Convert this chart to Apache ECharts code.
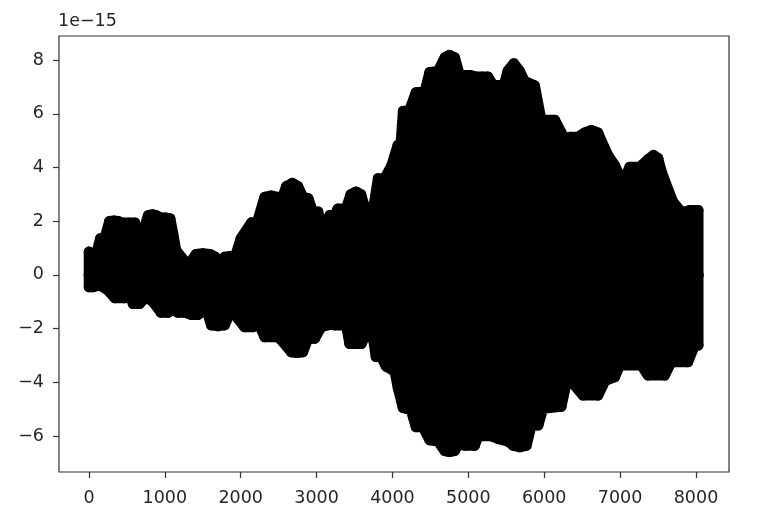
<!DOCTYPE html>
<html>
<head>
<meta charset="utf-8">
<script src="https://cdn.jsdelivr.net/npm/echarts@6/dist/echarts.min.js"></script>
<style>
  html, body { margin: 0; padding: 0; background: #fff; }
  #main { width: 758px; height: 528px; }
</style>
</head>
<body>
<div id="main"></div>
<script>
// envelope of the dense signal (units of 1e-15)
var upperX = [0, 0, 75, 150, 207, 270, 330, 385, 440, 520, 605, 668, 734, 780, 840, 885, 950, 1010, 1070,
  1107, 1147, 1217, 1305, 1410, 1500, 1595, 1660, 1722, 1788, 1860, 1925, 2000, 2140, 2205, 2315, 2400,
  2490, 2540, 2600, 2680, 2755, 2820, 2890, 2950, 3020, 3084, 3172, 3238, 3280, 3390, 3450, 3520, 3585,
  3633, 3700, 3750, 3810, 3897, 3990, 4070, 4110, 4140, 4225, 4310, 4425, 4490, 4600, 4690, 4750, 4820,
  4885, 5020, 5100, 5180, 5260, 5325, 5390, 5435, 5520, 5600, 5675, 5740, 5875, 5960, 6140, 6225, 6270,
  6335, 6445, 6533, 6620, 6708, 6760, 6840, 6928, 7010, 7060, 7126, 7258, 7367, 7440, 7500, 7540, 7630,
  7697, 7806, 7850, 7916, 8030, 8030];
var upperY = [0, 0.86, 0.55, 1.36, 1.36, 2.0, 2.02, 2.0, 1.94, 1.94, 1.94, 0.92, 1.79, 2.22, 2.25, 2.22, 2.13, 2.13, 2.1,
  1.55, 0.92, 0.67, 0.36, 0.77, 0.8, 0.77, 0.68, 0.48, 0.67, 0.7, 0.67, 1.35, 1.95, 1.85, 2.9, 2.95,
  2.9, 2.8, 3.3, 3.42, 3.3, 2.9, 2.85, 2.35, 2.35, 1.42, 2.22, 2.22, 2.47, 2.47, 3.0, 3.1, 3.0,
  2.52, 2.52, 2.5, 3.59, 3.59, 4.09, 4.83, 4.9, 6.1, 6.14, 6.8, 6.82, 7.55, 7.59, 8.1, 8.19, 8.1,
  7.44, 7.44, 7.38, 7.38, 7.38, 7.07, 7.07, 6.69, 7.6, 7.88, 7.6, 7.22, 7.05, 5.77, 5.77, 5.3, 4.83,
  5.14, 5.14, 5.3, 5.39, 5.3, 4.95, 4.46, 4.09, 3.59, 3.59, 4.02, 4.02, 4.3, 4.46, 4.35, 3.9, 3.2,
  2.72, 2.35, 2.35, 2.41, 2.41, 0];

var lowerX = [0, 0, 53, 140, 250, 340, 470, 536, 580, 668, 755, 843, 950, 1040, 1107, 1173, 1260, 1350, 1436,
  1546, 1612, 1700, 1788, 1875, 1963, 2050, 2160, 2205, 2315, 2490, 2557, 2665, 2740, 2820, 2885, 2975,
  3060, 3170, 3238, 3390, 3435, 3590, 3633, 3743, 3782, 3853, 3914, 4030, 4072, 4138, 4245, 4310, 4400,
  4490, 4600, 4690, 4750, 4820, 4890, 4950, 5083, 5130, 5170, 5300, 5390, 5520, 5590, 5680, 5765, 5830,
  5920, 5984, 6225, 6290, 6380, 6510, 6710, 6800, 6930, 6995, 7280, 7367, 7587, 7675, 7895, 7982, 8030, 8030];
var lowerY = [0, -0.45, -0.45, -0.38, -0.57, -0.86, -0.86, -0.69, -1.07, -1.07, -0.82, -1.0, -1.4, -1.4, -1.3,
  -1.4, -1.4, -1.48, -1.48, -1.25, -1.87, -1.9, -1.87, -1.3, -1.62, -1.94, -1.94, -1.62, -2.31, -2.31,
  -2.5, -2.87, -2.9, -2.87, -2.37, -2.37, -1.94, -1.85, -1.87, -1.87, -2.56, -2.56, -2.31, -2.31, -3.05,
  -3.05, -3.4, -3.6, -4.2, -4.95, -5.04, -5.66, -5.66, -6.15, -6.2, -6.55, -6.59, -6.55, -6.22, -6.35,
  -6.35, -6.0, -6.0, -6.0, -6.1, -6.2, -6.35, -6.41, -6.35, -5.6, -5.6, -4.98, -4.9, -4.05, -4.05,
  -4.48, -4.48, -3.95, -3.8, -3.36, -3.36, -3.74, -3.74, -3.24, -3.24, -2.62, -2.62, 0];

var xTicks = [0, 1000, 2000, 3000, 4000, 5000, 6000, 7000, 8000];
var yTicks = [-6, -4, -2, 0, 2, 4, 6, 8];

function pairs(xs, ys) {
  return xs.map(function (x, i) { return [x, ys[i]]; });
}

var font = 'DejaVu Sans';
var textColor = '#262626';

function envelope(data) {
  return {
    type: 'line',
    data: data,
    symbol: 'circle',
    symbolSize: 10.5,
    showSymbol: true,
    showAllSymbol: true,
    silent: true,
    itemStyle: { color: '#000', borderWidth: 0 },
    lineStyle: { color: '#000', width: 10.5, join: 'round', cap: 'round' },
    areaStyle: { color: '#000', opacity: 1, origin: 0 }
  };
}

var chart = echarts.init(document.getElementById('main'));
chart.setOption({
  animation: false,
  backgroundColor: '#fff',
  grid: {
    left: 59, right: 29, top: 36, bottom: 56,
    show: true, borderColor: '#333', borderWidth: 1.2
  },
  xAxis: {
    type: 'value',
    min: -395,
    max: 8435,
    splitLine: { show: false },
    axisLine: { show: false, onZero: false },
    axisTick: { show: true, length: 6, customValues: xTicks, lineStyle: { color: '#333', width: 1.2 } },
    axisLabel: {
      customValues: xTicks, margin: 17, color: textColor,
      fontFamily: font, fontSize: 17.5,
      formatter: function (v) { return String(v); }
    }
  },
  yAxis: {
    type: 'value',
    min: -7.34,
    max: 8.9,
    splitLine: { show: false },
    axisLine: { show: false, onZero: false },
    axisTick: { show: true, length: 6, customValues: yTicks, lineStyle: { color: '#333', width: 1.2 } },
    axisLabel: {
      customValues: yTicks, margin: 15, color: textColor,
      fontFamily: font, fontSize: 17.5,
      formatter: function (v) { return String(v).replace('-', '\u2212'); }
    }
  },
  graphic: [{
    type: 'text',
    left: 58,
    top: 12,
    style: { text: '1e\u221215', fill: textColor, font: '17.5px "DejaVu Sans"' }
  }],
  series: [envelope(pairs(upperX, upperY)), envelope(pairs(lowerX, lowerY))]
});
</script>
</body>
</html>
